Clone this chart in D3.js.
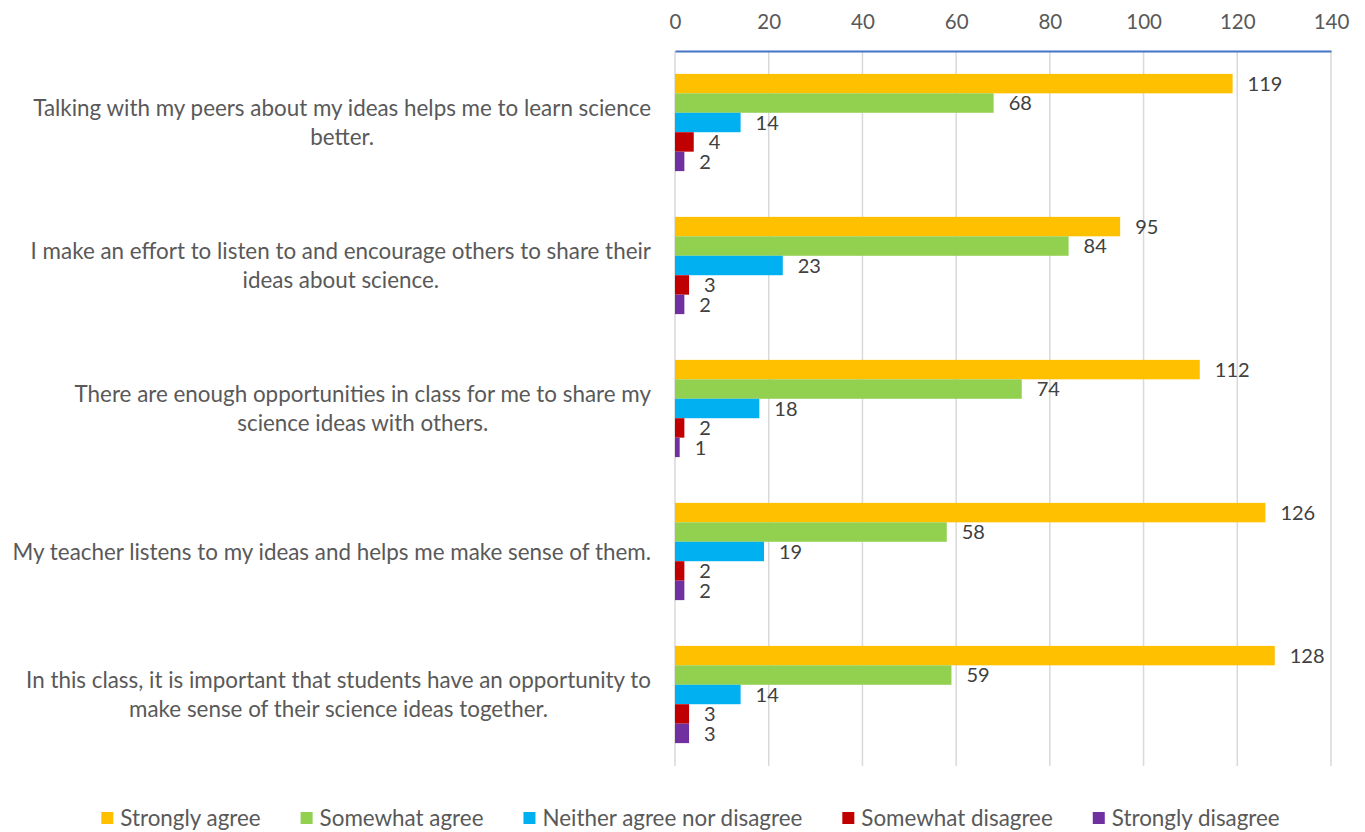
<!DOCTYPE html>
<html><head><meta charset="utf-8">
<script src="https://cdn.jsdelivr.net/npm/d3@7"></script>
<style>html,body{margin:0;padding:0;background:#fff;}svg{display:block;}</style>
</head><body>
<svg id="chart" width="1365" height="832"></svg>
<script>
const categories = [
  ["Talking with my peers about my ideas helps me to learn science", "better."],
  ["I make an effort to listen to and encourage others to share their", "ideas about science."],
  ["There are enough opportunities in class for me to share my", "science ideas with others."],
  ["My teacher listens to my ideas and helps me make sense of them."],
  ["In this class, it is important that students have an opportunity to", "make sense of their science ideas together."]
];
const seriesNames = ["Strongly agree", "Somewhat agree", "Neither agree nor disagree", "Somewhat disagree", "Strongly disagree"];
const seriesColors = ["#FFC000", "#92D050", "#00B0F0", "#C00000", "#7030A0"];
const stronglyAgree = [119, 95, 112, 126, 128];
const somewhatAgree = [68, 84, 74, 58, 59];
const neither = [14, 23, 18, 19, 14];
const somewhatDisagree = [4, 3, 2, 2, 3];
const stronglyDisagree = [2, 2, 1, 2, 3];
const tickValues = [0, 20, 40, 60, 80, 100, 120, 140];

const seriesValues = [stronglyAgree, somewhatAgree, neither, somewhatDisagree, stronglyDisagree];
const FONT = "Lato, 'Open Sans', sans-serif";
const svg = d3.select("#chart");

const x = d3.scaleLinear().domain([0, 140]).range([675, 1331]);
const y0 = d3.scaleBand().domain(d3.range(categories.length)).range([51, 766]).paddingInner(0.32).paddingOuter(0.16);
const y1 = d3.scaleBand().domain(d3.range(seriesNames.length)).range([0, y0.bandwidth()]);

// gridlines
svg.append("g").selectAll("line").data(tickValues).join("line")
  .attr("x1", d => x(d)).attr("x2", d => x(d))
  .attr("y1", 51).attr("y2", 766)
  .attr("stroke", "#D9D9D9").attr("stroke-width", 1.5);

// top axis
const axis = svg.append("g").attr("transform", "translate(0,51)")
  .call(d3.axisTop(x).tickValues(tickValues).tickSize(0).tickPadding(22));
axis.select(".domain").attr("stroke", "#4472C4").attr("stroke-width", 2);
axis.selectAll("text").attr("font-family", FONT).attr("font-size", 20.5).attr("fill", "#595959");

// bars
const groups = svg.append("g").selectAll("g").data(categories).join("g")
  .attr("transform", (d, i) => `translate(0,${y0(i)})`);
groups.each(function(cat, ci) {
  const g = d3.select(this);
  const data = seriesValues.map((arr, si) => ({si, v: arr[ci]}));
  g.selectAll("rect").data(data).join("rect")
    .attr("x", x(0)).attr("y", d => y1(d.si))
    .attr("width", d => x(d.v) - x(0)).attr("height", y1.bandwidth())
    .attr("fill", d => seriesColors[d.si]);
  g.selectAll("text.val").data(data).join("text").attr("class", "val")
    .attr("x", d => x(d.v) + 15).attr("y", d => y1(d.si) + y1.bandwidth() / 2)
    .attr("dy", "0.36em")
    .attr("font-family", FONT).attr("font-size", 20).attr("fill", "#404040")
    .text(d => d.v);
});

// category labels
const lineH = 29;
categories.forEach((lines, i) => {
  const cy = y0(i) + y0.bandwidth() / 2;
  const t = svg.append("text").attr("font-family", FONT).attr("font-size", 22.4).attr("fill", "#595959")
    .attr("text-anchor", "middle");
  lines.forEach((ln, k) => {
    t.append("tspan").attr("y", cy + (k - (lines.length - 1) / 2) * lineH).attr("dy", "0.36em").text(ln);
  });
  let maxW = 0;
  t.selectAll("tspan").each(function() { maxW = Math.max(maxW, this.getComputedTextLength()); });
  t.selectAll("tspan").attr("x", 651 - maxW / 2);
});

// legend
const leg = svg.append("g");
let cx = 0;
seriesNames.forEach((name, i) => {
  const it = leg.append("g");
  it.append("rect").attr("x", 0).attr("y", -6).attr("width", 12).attr("height", 12).attr("fill", seriesColors[i]);
  const tx = it.append("text").attr("x", 19).attr("y", 0).attr("dy", "0.36em")
    .attr("font-family", FONT).attr("font-size", 22.4).attr("fill", "#595959").text(name);
  const w = 19 + tx.node().getComputedTextLength();
  it.attr("transform", `translate(${cx},0)`);
  cx += w + 40;
});
const total = cx - 40;
leg.attr("transform", `translate(${(102 + 1279) / 2 - total / 2},818)`);
</script>
</body></html>
